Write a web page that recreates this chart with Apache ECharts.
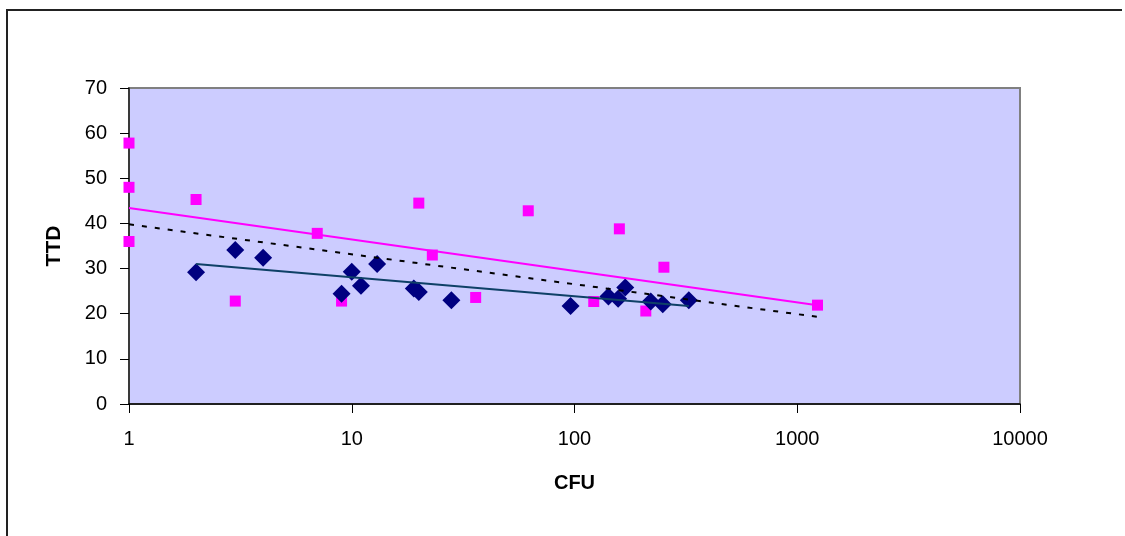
<!DOCTYPE html>
<html>
<head>
<meta charset="utf-8">
<script src="https://cdn.jsdelivr.net/npm/echarts@6/dist/echarts.min.js"></script>
<style>
    body {margin: 0; background: #fff;}
    #chart {width: 1125px; height: 536px;}
    #frame {position: absolute; left: 6px; top: 9px; width: 1114px; height: 540px;
        border-left: 2px solid #222; border-top: 2px solid #222;}
</style>
</head>
<body>
<div id="frame"></div>
<div id="chart"></div>
<script>
// magenta squares
let pinkX = [1, 1, 1, 2, 3, 7, 9, 20, 23, 36, 62, 122, 159, 209, 252, 1233];
let pinkY = [57.8, 48.0, 36.0, 45.3, 22.8, 37.8, 22.8, 44.5, 33.0, 23.6, 42.8, 22.7, 38.8, 20.6, 30.3, 21.9];
// navy diamonds
let navyX = [2, 3, 4, 9, 10, 11, 13, 19, 20, 28, 96, 142, 157, 169, 220, 249, 326];
let navyY = [29.2, 34.1, 32.4, 24.4, 29.3, 26.2, 31.0, 25.6, 24.8, 23.0, 21.7, 23.8, 23.3, 25.8, 22.7, 22.1, 23.0];
// trend lines (end points)
let pinkTrendX = [1, 1233];
let pinkTrendY = [43.4, 21.9];
let navyTrendX = [2, 326];
let navyTrendY = [31.0, 21.7];
let allTrendX = [1, 1233];
let allTrendY = [39.8, 19.3];

function pairs(xs, ys) {
    return xs.map((x, i) => [x, ys[i]]);
}

let font = 'Liberation Sans, Arial, sans-serif';

let option = {
    animation: false,
    grid: {
        left: 129,
        right: 105,
        top: 88,
        bottom: 132,
        show: true,
        backgroundColor: '#CCCCFF',
        borderColor: '#808080',
        borderWidth: 2
    },
    xAxis: {
        type: 'log',
        logBase: 10,
        min: 1,
        max: 10000,
        name: 'CFU',
        nameLocation: 'middle',
        nameGap: 69,
        nameTextStyle: {fontFamily: font, fontSize: 20, fontWeight: 'bold', color: '#000'},
        axisLine: {lineStyle: {color: '#000', width: 1.5}},
        axisTick: {length: 9, lineStyle: {color: '#000'}},
        axisLabel: {
            margin: 25, fontFamily: font, fontSize: 20, color: '#000',
            formatter: function (value) {
                return String(value);
            }
        },
        splitLine: {show: false},
        minorTick: {show: false}
    },
    yAxis: {
        type: 'value',
        min: 0,
        max: 70,
        interval: 10,
        name: 'TTD',
        nameLocation: 'middle',
        nameGap: 64,
        nameRotate: 90,
        nameTextStyle: {fontFamily: font, fontSize: 21, fontWeight: 'bold', color: '#000'},
        axisLine: {show: true, lineStyle: {color: '#222', width: 1.5}},
        axisTick: {show: true, length: 9, lineStyle: {color: '#000'}},
        axisLabel: {margin: 22, fontFamily: font, fontSize: 20, color: '#000'},
        splitLine: {show: false}
    },
    series: [
        {
            type: 'line',
            data: pairs(pinkTrendX, pinkTrendY),
            showSymbol: false,
            lineStyle: {color: '#FF00FF', width: 2}
        },
        {
            type: 'line',
            data: pairs(allTrendX, allTrendY),
            showSymbol: false,
            lineStyle: {color: '#000', width: 2, type: [5, 8]}
        },
        {
            type: 'line',
            data: pairs(navyTrendX, navyTrendY),
            showSymbol: false,
            lineStyle: {color: '#0E4066', width: 2}
        },
        {
            type: 'scatter',
            data: pairs(pinkX, pinkY),
            symbol: 'rect',
            symbolSize: 11,
            itemStyle: {color: '#FF00FF', opacity: 1}
        },
        {
            type: 'scatter',
            data: pairs(navyX, navyY),
            symbol: 'diamond',
            symbolSize: 18,
            itemStyle: {color: '#000080', opacity: 1}
        }
    ]
};
echarts.init(document.getElementById('chart')).setOption(option);
</script>
</body>
</html>
